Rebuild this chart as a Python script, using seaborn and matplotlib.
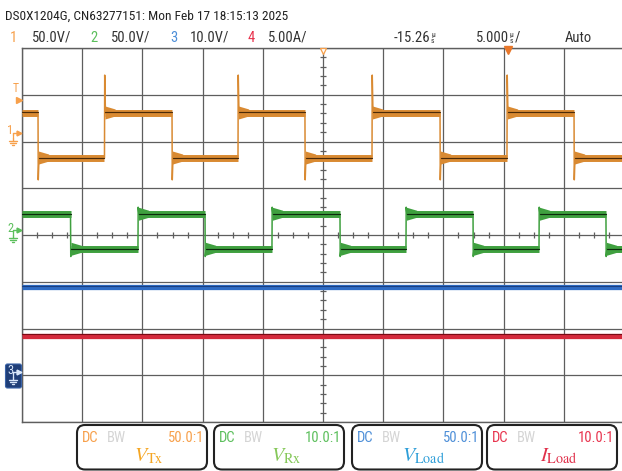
import numpy as np
import pandas as pd
import matplotlib
matplotlib.use("Agg")
import matplotlib.pyplot as plt
import seaborn as sns
from matplotlib import font_manager
from matplotlib.patches import FancyBboxPatch, Polygon

# ---------------- acquisition data ----------------
TIME_PER_DIV = 5.0            # µs / div
SCREEN_TIME = 50.0            # µs across 10 divisions

channel_names = ["1", "2", "3", "4"]
channel_scales = ["50.0V/", "50.0V/", "10.0V/", "5.00A/"]
channel_volts_per_div = [50.0, 50.0, 10.0, 5.0]
channel_ground_div = [2.16, 0.08, -2.96, -2.96]   # ground marker position (div from centre)
probe_ratio = ["50.0:1", "10.0:1", "50.0:1", "10.0:1"]
trace_labels = [r"$V_{\mathrm{Tx}}$", r"$V_{\mathrm{Rx}}$",
                r"$V_{\mathrm{Load}}$", r"$I_{\mathrm{Load}}$"]

# switching edges, µs from the left edge of the screen
tx_edges = [1.33, 6.85, 12.46, 17.94, 23.50, 29.07, 34.72, 40.28, 45.85]
rx_edges = [4.03, 9.63, 15.20, 20.76, 26.41, 31.89, 37.46, 42.94, 48.50]
tx_high, tx_low = 22.5, -25.7          # V
rx_high, rx_low = 18.2, -19.3          # V
tx_peak_up, tx_peak_dn = 63.0, -49.0   # edge overshoot, V
rx_peak_up, rx_peak_dn = 25.7, -27.0
v_load = 18.4                          # V
i_load = 4.0                           # A

header = "DS0X1204G, CN63277151: Mon Feb 17 18:15:13 2025"
delay_text = "-15.26"
timebase_text = "5.000"
trigger_mode = "Auto"

# ---------------- styling ----------------
label_colors = ["#F7A04B", "#5CBF5C", "#4E8FD8", "#E8344E"]
band_colors = ["#D98A32", "#3FA03F", "#2F6CC4", "#D42A3C"]
core_colors = ["#4A2A08", "#0C2A0C", "#1A3F80", "#7A0A14"]
name_colors = ["#F5A623", "#86C85A", "#2E9ED8", "#E0304A"]
GRID = "#5E5E5E"

sns.set_theme(style="white")
avail = {f.name for f in font_manager.fontManager.ttflist}
NARROW = next((n for n in ["Liberation Sans Narrow", "Roboto Condensed", "Roboto", "Liberation Sans"]
               if n in avail), "DejaVu Sans")
plt.rcParams["font.family"] = [NARROW, "DejaVu Sans"]
plt.rcParams["mathtext.fontset"] = "stix"

W, H = 622, 471
fig = plt.figure(figsize=(W / 100, H / 100), dpi=100)
fig.patch.set_facecolor("white")

# screen: 10 x 8 divisions, left edge at x=22 px, 60.2 px/div, top at y=48 px
ax = fig.add_axes([22 / W, (H - 422) / H, 602 / W, 374 / H])
ax.set_xlim(0, 10)
ax.set_ylim(-4, 4)
ax.set_xticks(np.arange(0, 11))
ax.set_yticks(np.arange(-4, 5))
ax.grid(True, color=GRID, lw=0.9)
ax.tick_params(left=False, bottom=False, labelleft=False, labelbottom=False)
for s in ax.spines.values():
    s.set_color(GRID)
    s.set_linewidth(1.0)

# minor ticks on the centre axes
xm = [v for v in np.arange(0, 10.01, 0.25) if abs(v - round(v)) > 1e-6]
ax.plot(xm, np.zeros(len(xm)), ls="none", marker="|", ms=4.5, mew=0.9, color=GRID)
ym = [v for v in np.arange(-4, 4.01, 0.2) if abs(v - round(v)) > 1e-6]
ax.plot(np.full(len(ym), 5.0), ym, ls="none", marker="_", ms=4.5, mew=0.9, color=GRID)

PX_Y = 8 / 374.0   # div per vertical pixel


def to_div(v, ch):
    return v / channel_volts_per_div[ch] + channel_ground_div[ch]


def square_wave(edges, start_high, hi, lo, pk_up, pk_dn):
    """Polyline of a switching waveform plus its flat segments."""
    t, v = [0.0], [hi if start_high else lo]
    level = v[0]
    flats = []
    seg_start = 0.0
    for e in edges:
        new = lo if level == hi else hi
        pk = pk_dn if new == lo else pk_up
        flats.append((seg_start, e, level))
        t += [e, e + 0.02, e + 0.08]
        v += [level, pk, new]
        level = new
        seg_start = e + 0.08
    flats.append((seg_start, SCREEN_TIME, level))
    t.append(SCREEN_TIME)
    v.append(level)
    return np.array(t), np.array(v), flats


def draw_switching(ch, edges, start_high, hi, lo, pk_up, pk_dn):
    t, v, flats = square_wave(edges, start_high, hi, lo, pk_up, pk_dn)
    x = t / TIME_PER_DIV
    y = to_div(v, ch)
    sns.lineplot(x=x, y=y, sort=False, estimator=None, ax=ax,
                 color=band_colors[ch], linewidth=1.1, zorder=4)
    rows = []
    for k, (a, b, lev) in enumerate(flats):
        rows += [(a / TIME_PER_DIV, to_div(lev, ch), k), (b / TIME_PER_DIV, to_div(lev, ch), k)]
        # ringing flare right after each edge
        if k > 0:
            x0 = a / TIME_PER_DIV
            yc = to_div(lev, ch)
            ax.add_patch(Polygon([(x0, yc + 6.5 * PX_Y), (x0 + 0.17, yc + 3.5 * PX_Y),
                                  (x0 + 0.17, yc - 3.5 * PX_Y), (x0, yc - 6.5 * PX_Y)],
                                 closed=True, facecolor=band_colors[ch], edgecolor="none",
                                 zorder=4))
    df = pd.DataFrame(rows, columns=["x", "y", "seg"])
    sns.lineplot(data=df, x="x", y="y", units="seg", estimator=None, sort=False, ax=ax,
                 color=band_colors[ch], linewidth=5.0, zorder=5, solid_capstyle="butt")
    sns.lineplot(data=df.assign(y=df["y"] + 0.5 * PX_Y), x="x", y="y", units="seg",
                 estimator=None, sort=False, ax=ax, color=core_colors[ch], linewidth=0.85,
                 zorder=6)


def draw_dc(ch, value):
    df = pd.DataFrame({"x": [0.0, 10.0], "y": [to_div(value, ch)] * 2})
    sns.lineplot(data=df, x="x", y="y", ax=ax, color=band_colors[ch], linewidth=3.8, zorder=5,
                 solid_capstyle="butt")
    sns.lineplot(data=df.assign(y=df["y"] + 1.6 * PX_Y), x="x", y="y", ax=ax,
                 color=core_colors[ch], linewidth=0.8, zorder=6)


draw_switching(0, tx_edges, True, tx_high, tx_low, tx_peak_up, tx_peak_dn)
draw_switching(1, rx_edges, True, rx_high, rx_low, rx_peak_up, rx_peak_dn)
draw_dc(2, v_load)
draw_dc(3, i_load)
ax.set_xlabel("")
ax.set_ylabel("")

# ---------------- overlay in pixel coordinates ----------------
ov = fig.add_axes([0, 0, 1, 1], zorder=10)
ov.set_xlim(0, W)
ov.set_ylim(H, 0)
ov.axis("off")
ov.patch.set_alpha(0)

ov.text(5, 16, header, fontsize=9.6, color="#222222", va="center", ha="left")

row_y = 38
for name, scale, col, xn, xs in zip(channel_names, channel_scales, label_colors,
                                    [10, 90, 170, 248], [32, 111, 190, 268]):
    ov.text(xn, row_y, name, fontsize=10.5, color=col, va="center", ha="left")
    ov.text(xs, row_y, scale, fontsize=10.5, color="#333333", va="center", ha="left")

ov.text(430, row_y, delay_text, fontsize=10.5, color="#333333", va="center", ha="right")
ov.text(431, row_y - 3.5, "µ", fontsize=5.5, color="#333333", va="center", ha="left")
ov.text(431, row_y + 3, "s", fontsize=5.5, color="#333333", va="center", ha="left")
ov.text(509, row_y, timebase_text, fontsize=10.5, color="#333333", va="center", ha="right")
ov.text(510, row_y - 3.5, "µ", fontsize=5.5, color="#333333", va="center", ha="left")
ov.text(510, row_y + 3, "s", fontsize=5.5, color="#333333", va="center", ha="left")
ov.text(515, row_y, "/", fontsize=10.5, color="#333333", va="center", ha="left")
ov.text(565, row_y, trigger_mode, fontsize=10.5, color="#333333", va="center", ha="left")

# time reference and trigger position markers on the top edge
ov.plot([323], [51], marker="v", ms=5, mfc="white", mec=label_colors[0], mew=0.9)
ov.plot([508], [50], marker="v", ms=6, color="#E8772A")


def ground(x, y, col, z=4):
    ov.plot([x, x], [y, y + 4], color=col, lw=1.0, zorder=z)
    for dy, hw in [(4, 4), (6, 2.6), (8, 1.2)]:
        ov.plot([x - hw, x + hw], [y + dy, y + dy], color=col, lw=1.0, zorder=z)


def channel_marker(label, y, col):
    ov.text(7, y - 2, label, fontsize=9, color=col, va="center", ha="left", zorder=5)
    ov.plot([13, 13, 17.5], [y + 3, y, y], color=col, lw=1.0, zorder=5)
    ov.plot([18.5], [y], marker=">", ms=3.5, color=col, zorder=5)
    ground(13, y + 4, col, z=5)


# trigger level
ov.text(16, 89, "T", fontsize=8.5, color=label_colors[0], va="center", ha="center")
ov.plot([18.5], [100], marker=">", ms=5, color=label_colors[0])
channel_marker("1", 133, label_colors[0])
channel_marker("2", 230, label_colors[1])
ov.add_patch(FancyBboxPatch((5.5, 364), 16, 24, boxstyle="round,pad=0,rounding_size=2",
                            facecolor="#1F3E78", edgecolor="#3A63A8", lw=0.8, zorder=3))
channel_marker("3", 372, "#D8E6FA")

# probe information boxes
for i, left in enumerate([77, 214, 352, 487]):
    ov.add_patch(FancyBboxPatch((left, 425), 130, 44.5, boxstyle="round,pad=0,rounding_size=8",
                                facecolor="white", edgecolor="#222222", lw=1.5))
    ov.text(left + 5, 438, "DC", fontsize=10.5, color=label_colors[i], va="center", ha="left")
    ov.text(left + 30, 438, "BW", fontsize=10.5, color="#D5D5D5", va="center", ha="left")
    ov.text(left + 127, 438, probe_ratio[i], fontsize=10.5, color=label_colors[i],
            va="center", ha="right")
    ov.text(left + 72, 456, trace_labels[i], fontsize=14.5, color=name_colors[i],
            va="center", ha="center")

fig.savefig("out.png", dpi=100, facecolor="white")
